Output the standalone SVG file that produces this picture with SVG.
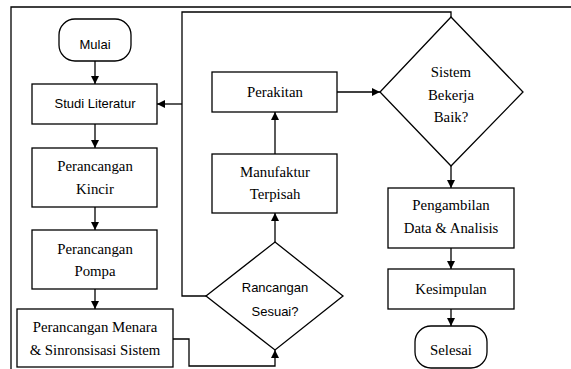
<svg xmlns="http://www.w3.org/2000/svg" width="571" height="369" viewBox="0 0 571 369">
<defs>
<style>
.b{fill:#fff;stroke:#000;stroke-width:1.3}
.c{fill:none;stroke:#000;stroke-width:1.3}
.s{font-family:"Liberation Sans",Arial,sans-serif;font-size:13px;fill:#000;text-anchor:middle}
.t{font-family:"Liberation Serif","Times New Roman",serif;font-size:14.8px;fill:#000;text-anchor:middle}
</style>
<marker id="a" markerUnits="userSpaceOnUse" markerWidth="10" markerHeight="10" refX="8" refY="4" orient="auto">
<path d="M0,0 L8,4 L0,8 Z" fill="#000"/>
</marker>
</defs>
<rect width="571" height="369" fill="#fff"/>
<path class="c" d="M11,369 V7 H571" stroke-width="1.6"/>
<g id="connectors">
<path class="c" d="M95,61 V84" marker-end="url(#a)"/>
<path class="c" d="M95,124 V148" marker-end="url(#a)"/>
<path class="c" d="M95,207 V230" marker-end="url(#a)"/>
<path class="c" d="M95,289 V309" marker-end="url(#a)"/>
<path class="c" d="M173,339 H189 V366 H275 V350" marker-end="url(#a)"/>
<path class="c" d="M275,242 V213" marker-end="url(#a)"/>
<path class="c" d="M275,154 V112" marker-end="url(#a)"/>
<path class="c" d="M337,92 H380" marker-end="url(#a)"/>
<path class="c" d="M206,296 H182 V12 H451 V17"/>
<path class="c" d="M182,104 H157" marker-end="url(#a)"/>
<path class="c" d="M451,166 V188" marker-end="url(#a)"/>
<path class="c" d="M451,248 V269" marker-end="url(#a)"/>
<path class="c" d="M451,309 V326" marker-end="url(#a)"/>
</g>
<g id="mulai">
<rect class="b" x="59" y="19" width="72" height="42" rx="16" ry="16"/>
<text class="s" x="95" y="49" font-size="14">Mulai</text>
</g>
<g id="studi">
<rect class="b" x="32" y="84" width="125" height="40"/>
<text class="s" x="95" y="108" font-size="12.2">Studi Literatur</text>
</g>
<g id="kincir">
<rect class="b" x="32" y="148" width="125" height="59"/>
<text class="t" x="95" y="171">Perancangan</text>
<text class="t" x="95" y="194">Kincir</text>
</g>
<g id="pompa">
<rect class="b" x="32" y="230" width="125" height="59"/>
<text class="t" x="95" y="254">Perancangan</text>
<text class="t" x="95" y="276">Pompa</text>
</g>
<g id="menara">
<rect class="b" x="17" y="309" width="156" height="58"/>
<text class="t" x="95" y="332">Perancangan Menara</text>
<text class="t" x="95" y="355">&amp; Sinronsisasi Sistem</text>
</g>
<g id="rancangan">
<polygon class="b" points="275,242 343,296 275,350 206,296"/>
<text class="s" x="275" y="292">Rancangan</text>
<text class="s" x="275" y="316">Sesuai?</text>
</g>
<g id="manufaktur">
<rect class="b" x="212" y="154" width="125" height="59"/>
<text class="t" x="275" y="177">Manufaktur</text>
<text class="t" x="275" y="199">Terpisah</text>
</g>
<g id="perakitan">
<rect class="b" x="212" y="72" width="125" height="40"/>
<text class="t" x="275" y="97">Perakitan</text>
</g>
<g id="sistem">
<polygon class="b" points="451,17 523,92 451,166 380,92"/>
<text class="t" x="451" y="77">Sistem</text>
<text class="t" x="451" y="100">Bekerja</text>
<text class="t" x="451" y="122">Baik?</text>
</g>
<g id="pengambilan">
<rect class="b" x="388" y="188" width="126" height="60"/>
<text class="t" x="451" y="210">Pengambilan</text>
<text class="t" x="451" y="233">Data &amp; Analisis</text>
</g>
<g id="kesimpulan">
<rect class="b" x="388" y="269" width="126" height="40"/>
<text class="t" x="451" y="294" font-size="16">Kesimpulan</text>
</g>
<g id="selesai">
<rect class="b" x="415" y="326" width="72" height="42" rx="16" ry="16"/>
<text class="t" x="451" y="355">Selesai</text>
</g>
</svg>
